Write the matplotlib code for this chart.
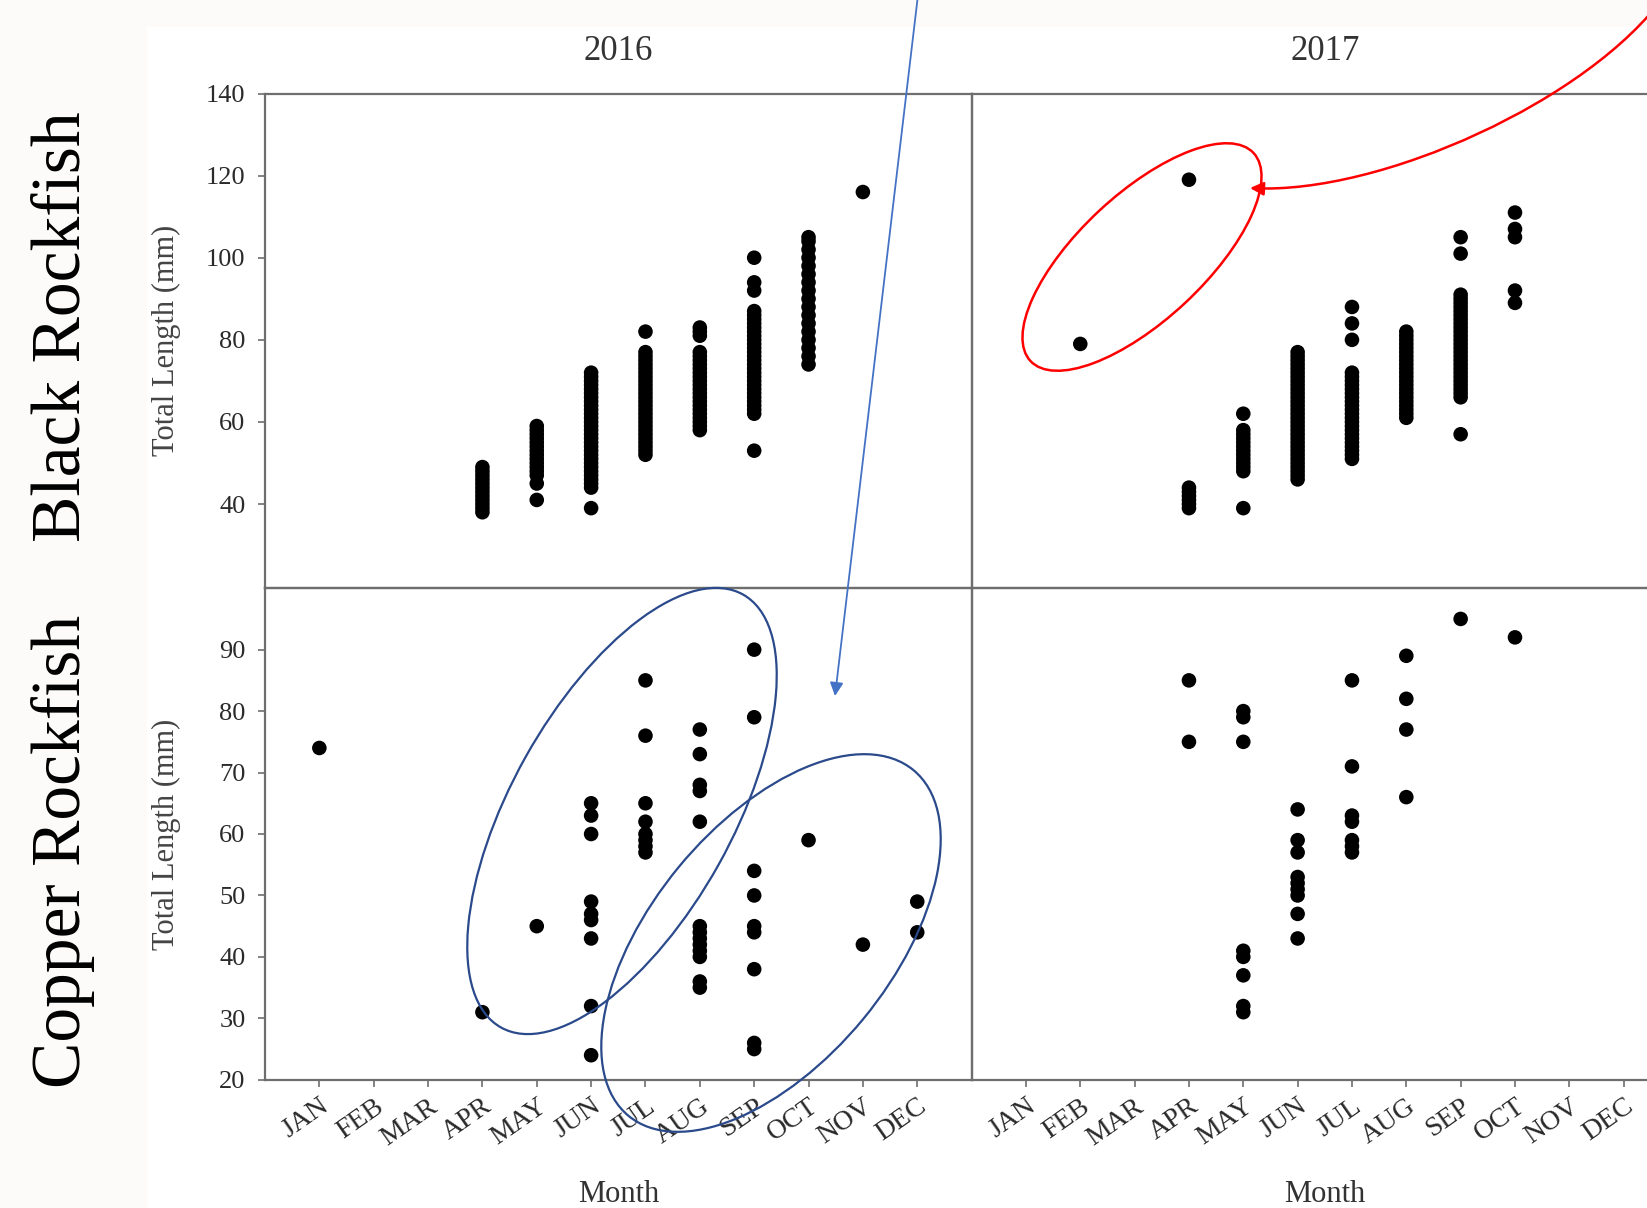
import matplotlib.pyplot as plt
from matplotlib.patches import Ellipse, FancyArrowPatch, Rectangle
from matplotlib.path import Path
from matplotlib.transforms import Affine2D

months = ['JAN', 'FEB', 'MAR', 'APR', 'MAY', 'JUN',
          'JUL', 'AUG', 'SEP', 'OCT', 'NOV', 'DEC']
years = ['2016', '2017']
species = ['Black Rockfish', 'Copper Rockfish']

# total length (mm) per month number
black_2016 = {
    4: [38, 39, 40, 41, 42, 43, 44, 45, 46, 47, 48, 49],
    5: [41, 45, 47, 48, 49, 50, 51, 52, 53, 54, 55, 56, 57, 58, 59],
    6: [39, 44, 45, 46, 47, 48, 49, 50, 51, 52, 53, 54, 55, 56, 57, 58, 59,
        60, 61, 62, 63, 64, 65, 66, 67, 68, 69, 70, 71, 72],
    7: [52, 53, 54, 55, 56, 57, 58, 59, 60, 61, 62, 63, 64, 65, 66, 67, 68,
        69, 70, 71, 72, 73, 74, 75, 76, 77, 82],
    8: [58, 59, 60, 61, 62, 63, 64, 65, 66, 67, 68, 69, 70, 71, 72, 73, 74,
        75, 76, 77, 81, 82, 83],
    9: [53, 62, 63, 64, 65, 66, 67, 68, 69, 70, 71, 72, 73, 74, 75, 76, 77,
        78, 79, 80, 81, 82, 83, 84, 85, 86, 87, 92, 94, 100],
    10: [74, 76, 78, 80, 82, 84, 86, 88, 90, 92, 94, 96, 98, 100, 102, 104, 105],
    11: [116],
}
black_2017 = {
    2: [79],
    4: [39, 40, 41, 42, 43, 44, 119],
    5: [39, 48, 49, 50, 51, 52, 53, 54, 55, 56, 57, 58, 62],
    6: [46, 47, 48, 49, 50, 51, 52, 53, 54, 55, 56, 57, 58, 59, 60, 61, 62,
        63, 64, 65, 66, 67, 68, 69, 70, 71, 72, 73, 74, 75, 76, 77],
    7: [51, 52, 53, 54, 55, 56, 57, 58, 59, 60, 61, 62, 63, 64, 65, 66, 67,
        68, 69, 70, 71, 72, 80, 84, 88],
    8: [61, 62, 63, 64, 65, 66, 67, 68, 69, 70, 71, 72, 73, 74, 75, 76, 77,
        78, 79, 80, 81, 82],
    9: [57, 66, 67, 68, 69, 70, 71, 72, 73, 74, 75, 76, 77, 78, 79, 80, 81,
        82, 83, 84, 85, 86, 87, 88, 89, 90, 91, 101, 105],
    10: [89, 92, 105, 107, 111],
}
copper_2016 = {
    1: [74],
    4: [31],
    5: [45],
    6: [24, 32, 43, 46, 47, 49, 60, 63, 65],
    7: [57, 58, 59, 60, 62, 65, 76, 85],
    8: [35, 36, 40, 41, 42, 43, 44, 45, 62, 67, 68, 73, 77],
    9: [25, 26, 38, 44, 45, 50, 54, 79, 90],
    10: [59],
    11: [42],
    12: [44, 49],
}
copper_2017 = {
    4: [75, 85],
    5: [31, 32, 37, 40, 41, 75, 79, 80],
    6: [43, 47, 50, 51, 52, 53, 57, 59, 64],
    7: [57, 58, 59, 62, 63, 71, 85],
    8: [66, 77, 82, 89],
    9: [95],
    10: [92],
}

W, H = 1647, 1208
plt.rcParams['font.family'] = ['Liberation Serif', 'DejaVu Serif']

fig = plt.figure(figsize=(W / 100, H / 100), dpi=100, facecolor='#fcfbf9')
# pixel coords (y down) -> figure
px = Affine2D().scale(1 / W, -1 / H).translate(0, 1) + fig.transFigure
fig.patches.append(Rectangle((147, 27), W, H, transform=px,
                             facecolor='white', edgecolor='none', zorder=-5))

xs = [265, 971.6, 1678]
ys = [93.5, 588.2, 1079.8]
frame = '#6e6e6e'
tick_col = '#2a2a2a'

panels = [[black_2016, black_2017], [copper_2016, copper_2017]]
for r in range(2):
    for c in range(2):
        rect = [xs[c] / W, 1 - ys[r + 1] / H, (xs[c + 1] - xs[c]) / W,
                (ys[r + 1] - ys[r]) / H]
        ax = fig.add_axes(rect)
        ax.patch.set_alpha(0)
        data = panels[r][c]
        for m, vals in data.items():
            ax.scatter([m] * len(vals), vals, s=110, c='black',
                       edgecolors='none', zorder=3)
        ax.set_xlim(0, 13)
        if r == 0:
            ax.set_ylim(19.5, 140)
            ax.set_yticks([40, 60, 80, 100, 120, 140])
        else:
            ax.set_ylim(20, 100)
            ax.set_yticks([20, 30, 40, 50, 60, 70, 80, 90])
        for s in ax.spines.values():
            s.set_color(frame)
            s.set_linewidth(1.6)
        ax.tick_params(colors=frame, labelcolor=tick_col, length=5,
                       width=1.2, labelsize=19)
        ax.tick_params(axis='y', pad=9)
        if c == 0:
            ax.set_ylabel('Total Length (mm)', fontsize=22, color='#444444')
            ax.yaxis.set_label_coords((181 - 265) / 706.6, 0.5)
        else:
            ax.tick_params(axis='y', left=False, labelleft=False)
        if r == 1:
            ax.set_xticks(range(1, 13))
            ax.set_xticklabels(months, rotation=35, ha='right', va='top',
                               rotation_mode='anchor', fontsize=20)
            ax.tick_params(axis='x', pad=5)
        else:
            ax.set_xticks([])

for c in range(2):
    cx = (xs[c] + xs[c + 1]) / 2
    fig.text(cx / W, 1 - 51 / H, years[c], fontsize=25, color='#333333',
             ha='center', va='center')
    fig.text(cx / W, 6 / H, 'Month', fontsize=22, color='#333333',
             ha='center', va='baseline')

for name, cy in zip(species, [327, 851]):
    fig.text(80 / W, 1 - cy / H, name, fontsize=50, rotation=90,
             rotation_mode='anchor', ha='center', va='baseline', color='black')

# annotations
red = '#ff0000'
blue_dark = '#2b4a8c'
blue = '#4472c4'
fig.add_artist(Ellipse((1142, 257), 305, 126, angle=-43, transform=px,
                       fill=False, edgecolor=red, lw=1.8))
curve = Path([(1665, -5), (1590, 100), (1380, 195), (1250, 188)],
             [Path.MOVETO, Path.CURVE4, Path.CURVE4, Path.CURVE4])
fig.add_artist(FancyArrowPatch(path=curve, arrowstyle='-|>', mutation_scale=20,
                               color=red, lw=1.8, transform=px))
fig.add_artist(Ellipse((622, 811), 496, 221, angle=-60.8, transform=px,
                       fill=False, edgecolor=blue_dark, lw=1.6))
fig.add_artist(Ellipse((771, 943), 448, 239, angle=-50.5, transform=px,
                       fill=False, edgecolor=blue_dark, lw=1.6))
fig.add_artist(FancyArrowPatch((918, -5), (835, 696), arrowstyle='-|>',
                               mutation_scale=20, color=blue, lw=1.3,
                               shrinkA=0, shrinkB=0, transform=px))

fig.savefig('out.png', dpi=100, facecolor=fig.get_facecolor())
